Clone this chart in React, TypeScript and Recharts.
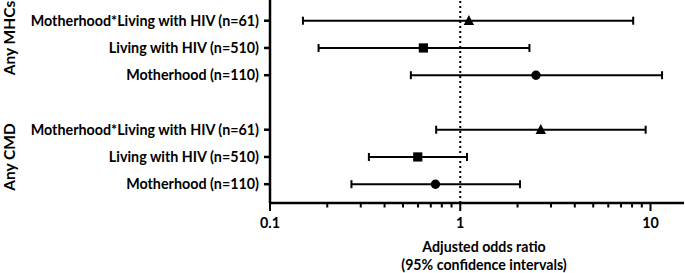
import React from 'react';
import { ScatterChart, Scatter, XAxis, YAxis, ErrorBar, ReferenceLine } from 'recharts';

const outcomes = ['Any MHCs', 'Any CMD'];
const exposures = ['Motherhood*Living with HIV (n=61)', 'Living with HIV (n=510)', 'Motherhood (n=110)'];

// values per outcome: [Any MHCs, Any CMD]
const interactionOR = [1.11, 2.65];
const interactionLow = [0.149, 0.747];
const interactionHigh = [8.11, 9.43];

const hivOR = [0.64, 0.598];
const hivLow = [0.18, 0.331];
const hivHigh = [2.31, 1.085];

const motherhoodOR = [2.5, 0.741];
const motherhoodLow = [0.55, 0.268];
const motherhoodHigh = [11.5, 2.06];

const xTicks = [0.1, 0.2, 0.3, 0.4, 0.5, 0.6, 0.7, 0.8, 0.9, 1, 2, 3, 4, 5, 6, 7, 8, 9, 10];
const xMajorTicks = [0.1, 1, 10];
const xAxisTitle = ['Adjusted odds ratio', '(95% confidence intervals)'];

const FONT = 'Lato, "Open Sans", sans-serif';
const FS = 14.3;

const slot = (g: number, e: number) =>
  (outcomes.length - 1 - g) * (exposures.length + 1) + (exposures.length - e);

const yTicks: number[] = [];
const yLabelMap: Record<number, { label: string; g: number; e: number }> = {};
outcomes.forEach((_, g) =>
  exposures.forEach((ex, e) => {
    const s = slot(g, e);
    yTicks.push(s);
    yLabelMap[s] = { label: ex, g, e };
  })
);

const buildSeries = (e: number, or: number[], lo: number[], hi: number[]) =>
  outcomes.map((_, g) => ({
    or: or[g],
    row: slot(g, e),
    err: [or[g] - lo[g], hi[g] - or[g]],
  }));

const interactionData = buildSeries(0, interactionOR, interactionLow, interactionHigh);
const hivData = buildSeries(1, hivOR, hivLow, hivHigh);
const motherhoodData = buildSeries(2, motherhoodOR, motherhoodLow, motherhoodHigh);

const Triangle = (props: any) => {
  const { cx, cy } = props;
  const s = 5.2;
  return (
    <polygon
      points={`${cx},${cy - s - 0.5} ${cx - s},${cy + s - 1} ${cx + s},${cy + s - 1}`}
      fill="#000"
    />
  );
};
const Square = (props: any) => {
  const { cx, cy } = props;
  return <rect x={cx - 4.6} y={cy - 4.6} width={9.2} height={9.2} fill="#000" />;
};
const Circle = (props: any) => {
  const { cx, cy } = props;
  return <circle cx={cx} cy={cy} r={4.7} fill="#000" />;
};

const XTick = (props: any) => {
  const { x, y, payload } = props;
  const major = xMajorTicks.includes(payload.value);
  return (
    <g>
      <line x1={x} x2={x} y1={y} y2={y + (major ? 8 : 4.5)} stroke="#000" strokeWidth={2} />
      {major && (
        <text
          x={x}
          y={y + 24.8}
          textAnchor="middle"
          fontFamily={FONT}
          fontWeight={700}
          fontSize={FS}
          fill="#000"
        >
          {String(payload.value)}
        </text>
      )}
    </g>
  );
};

const YTick = (props: any) => {
  const { x, y, payload } = props;
  const info = yLabelMap[payload.value];
  if (!info) return null;
  const groupY = info.g === 0 ? y - 10 : y;
  return (
    <g>
      <text
        x={x}
        y={y}
        dy={5}
        textAnchor="end"
        fontFamily={FONT}
        fontWeight={700}
        fontSize={FS}
        fill="#000"
      >
        {info.label}
      </text>
      {info.e === 1 && (
        <text
          x={15.5}
          y={groupY}
          transform={`rotate(-90, 15.5, ${groupY})`}
          textAnchor="middle"
          fontFamily={FONT}
          fontWeight={700}
          fontSize={15.5}
          fill="#000"
        >
          {outcomes[info.g]}
        </text>
      )}
    </g>
  );
};

const XTitle = (props: any) => {
  const { viewBox } = props;
  const cx = viewBox.x + viewBox.width / 2 + 7;
  return (
    <g fontFamily={FONT} fontWeight={700} fontSize={14.2} fill="#000">
      <text x={cx} y={viewBox.y + 49.3} textAnchor="middle">
        {xAxisTitle[0]}
      </text>
      <text x={cx} y={viewBox.y + 67} textAnchor="middle">
        {xAxisTitle[1]}
      </text>
    </g>
  );
};

export default function App() {
  return (
    <div style={{ position: 'absolute', left: 0, top: 0, width: 685, height: 273, background: '#fff' }}>
      <ScatterChart width={685} height={273} margin={{ top: 0, right: 1, bottom: 0, left: 0 }}>
        <XAxis
          type="number"
          dataKey="or"
          scale="log"
          domain={[0.1, 15]}
          allowDataOverflow
          ticks={xTicks}
          interval={0}
          tickLine={false}
          tickSize={0}
          tickMargin={0}
          tick={<XTick />}
          axisLine={{ stroke: '#000', strokeWidth: 2.5 }}
          height={70}
          label={<XTitle />}
        />
        <YAxis
          type="number"
          dataKey="row"
          domain={[0.31, 7.76]}
          allowDataOverflow
          ticks={yTicks}
          interval={0}
          width={270}
          tickSize={6}
          tickMargin={5}
          tickLine={{ stroke: '#000', strokeWidth: 2.5 }}
          tick={<YTick />}
          axisLine={{ stroke: '#000', strokeWidth: 2.5 }}
        />
        <ReferenceLine x={1} stroke="#000" strokeWidth={2} strokeDasharray="2 3" />
        <Scatter data={interactionData} shape={<Triangle />} isAnimationActive={false}>
          <ErrorBar dataKey="err" direction="x" width={4} stroke="#000" strokeWidth={2} isAnimationActive={false} />
        </Scatter>
        <Scatter data={hivData} shape={<Square />} isAnimationActive={false}>
          <ErrorBar dataKey="err" direction="x" width={4} stroke="#000" strokeWidth={2} isAnimationActive={false} />
        </Scatter>
        <Scatter data={motherhoodData} shape={<Circle />} isAnimationActive={false}>
          <ErrorBar dataKey="err" direction="x" width={4} stroke="#000" strokeWidth={2} isAnimationActive={false} />
        </Scatter>
      </ScatterChart>
    </div>
  );
}
